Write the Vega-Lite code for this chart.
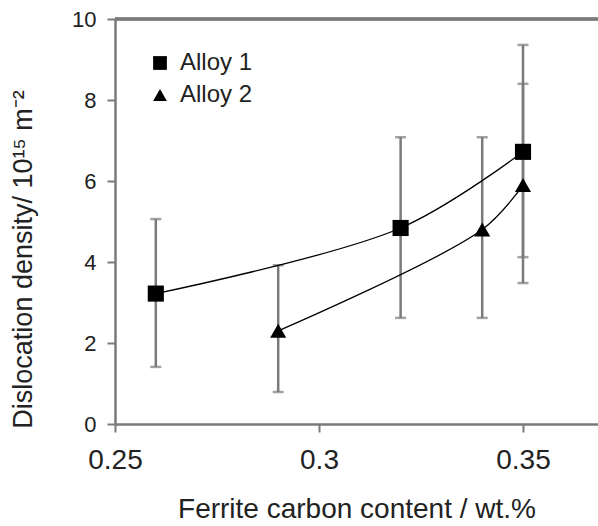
{
  "$schema": "https://vega.github.io/schema/vega-lite/v6.json",
  "autosize": {"type": "none"},
  "padding": {"left": 115, "top": 19, "right": 0, "bottom": 102},
  "width": 483,
  "height": 405,
  "background": "white",
  "config": {
    "view": {"stroke": null},
    "font": "Liberation Sans",
    "axis": {"domainColor": "#7a7a7a", "domainWidth": 2.5, "tickColor": "#7a7a7a", "tickWidth": 2, "grid": false, "labelColor": "#222", "titleColor": "#222", "labelFont": "Liberation Sans", "titleFont": "Liberation Sans", "titleFontWeight": "normal"},
    "legend": {"labelFont": "Liberation Sans"}
  },
  "data": {"values": [
    {"alloy": "Alloy 1", "c": 0.26, "d": 3.22, "lo": 1.41, "hi": 5.06},
    {"alloy": "Alloy 1", "c": 0.32, "d": 4.84, "lo": 2.62, "hi": 7.08},
    {"alloy": "Alloy 1", "c": 0.35, "d": 6.72, "lo": 4.12, "hi": 9.36},
    {"alloy": "Alloy 2", "c": 0.29, "d": 2.3, "lo": 0.79, "hi": 3.92},
    {"alloy": "Alloy 2", "c": 0.34, "d": 4.8, "lo": 2.62, "hi": 7.08},
    {"alloy": "Alloy 2", "c": 0.35, "d": 5.9, "lo": 3.48, "hi": 8.4}
  ]},
  "layer": [
    {
      "mark": {"type": "rule", "color": "#7a7a7a", "strokeWidth": 2.5},
      "encoding": {
        "y": {"datum": 10, "type": "quantitative", "scale": {"domain": [0, 10], "nice": false}}
      }
    },
    {
      "mark": {"type": "rule", "color": "#7a7a7a", "strokeWidth": 2.5},
      "encoding": {
        "x": {"field": "c", "type": "quantitative", "scale": {"domain": [0.25, 0.36838], "nice": false, "zero": false},
              "axis": {"values": [0.25, 0.3, 0.35], "format": "~g", "title": "Ferrite carbon content / wt.%", "labelFontSize": 28, "titleFontSize": 28, "tickSize": 8, "labelPadding": 14, "titlePadding": 21, "labelFlush": false}},
        "y": {"field": "lo", "type": "quantitative", "scale": {"domain": [0, 10], "nice": false},
              "axis": {"values": [0, 2, 4, 6, 8, 10], "title": "Dislocation density/ 10¹⁵ m⁻²", "labelFontSize": 22, "titleFontSize": 27, "tickSize": 8, "labelPadding": 11, "titlePadding": 34, "titleY": 240}},
        "y2": {"field": "hi"}
      }
    },
    {
      "mark": {"type": "tick", "color": "#7a7a7a", "orient": "horizontal", "size": 11, "thickness": 2.5},
      "encoding": {
        "x": {"field": "c", "type": "quantitative"},
        "y": {"field": "lo", "type": "quantitative"}
      }
    },
    {
      "mark": {"type": "tick", "color": "#7a7a7a", "orient": "horizontal", "size": 11, "thickness": 2.5},
      "encoding": {
        "x": {"field": "c", "type": "quantitative"},
        "y": {"field": "hi", "type": "quantitative"}
      }
    },
    {
      "mark": {"type": "line", "color": "black", "strokeWidth": 1.3, "interpolate": "catmull-rom"},
      "encoding": {
        "x": {"field": "c", "type": "quantitative"},
        "y": {"field": "d", "type": "quantitative"},
        "detail": {"field": "alloy"}
      }
    },
    {
      "mark": {"type": "point", "filled": true, "color": "black", "opacity": 1, "size": 260},
      "encoding": {
        "x": {"field": "c", "type": "quantitative"},
        "y": {"field": "d", "type": "quantitative"},
        "shape": {"field": "alloy", "type": "nominal", "scale": {"domain": ["Alloy 1", "Alloy 2"], "range": ["square", "triangle-up"]},
                  "legend": {"title": null, "orient": "none", "legendX": 33, "legendY": 32, "labelFontSize": 24, "labelColor": "#222", "symbolSize": 190, "symbolFillColor": "black", "symbolStrokeColor": "black", "symbolOpacity": 1, "rowPadding": 8, "labelOffset": 8, "padding": 0}}
      }
    }
  ]
}
